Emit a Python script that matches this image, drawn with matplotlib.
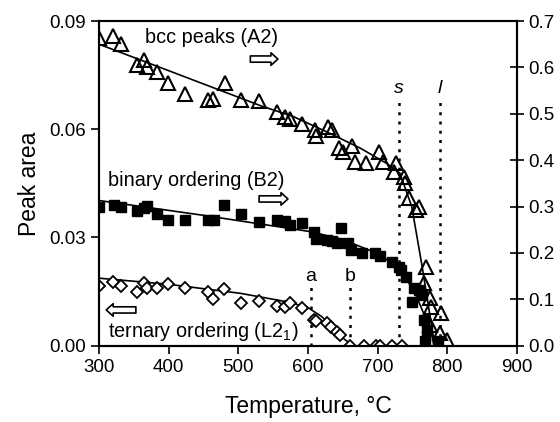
import matplotlib.pyplot as plt

plt.rcParams['font.family'] = ['Liberation Sans', 'DejaVu Sans']
plt.rcParams['mathtext.fontset'] = 'custom'
plt.rcParams['mathtext.rm'] = 'Liberation Sans'

# bcc peaks (A2), right axis
a2_t = [300, 320, 332, 354, 365, 369, 383, 399, 424, 457, 464, 481, 504, 530,
        556, 567, 574, 592, 610, 612, 629, 634, 645, 650, 663, 668, 684, 702,
        708, 726, 723, 738, 740, 745, 759, 755, 769, 767, 775, 776, 791, 775,
        790, 800]
a2_v = [0.663, 0.668, 0.650, 0.605, 0.617, 0.601, 0.591, 0.567, 0.543, 0.530,
        0.531, 0.566, 0.530, 0.527, 0.504, 0.494, 0.489, 0.479, 0.465, 0.452,
        0.472, 0.466, 0.426, 0.418, 0.430, 0.397, 0.394, 0.418, 0.397, 0.393,
        0.375, 0.364, 0.350, 0.318, 0.300, 0.293, 0.170, 0.135, 0.103, 0.084,
        0.070, 0.045, 0.027, 0.012]
a2_fit_t = [300, 400, 531, 579, 627, 675, 713, 732, 749, 764, 780, 783]
a2_fit_v = [0.650, 0.593, 0.518, 0.494, 0.461, 0.426, 0.393, 0.372, 0.300,
            0.170, 0.019, 0.0]

# binary ordering (B2), right axis
b2_t = [300, 321, 332, 354, 364, 369, 383, 399, 424, 457, 465, 480, 504, 530,
        556, 567, 574, 592, 608, 611, 627, 634, 641, 648, 657, 662, 677, 696,
        703, 720, 731, 734, 741, 752, 749, 759, 764, 766, 771, 768, 787]
b2_v = [0.300, 0.303, 0.298, 0.291, 0.296, 0.302, 0.283, 0.272, 0.272, 0.272,
        0.271, 0.303, 0.283, 0.266, 0.272, 0.269, 0.260, 0.264, 0.246, 0.231,
        0.228, 0.226, 0.222, 0.253, 0.221, 0.206, 0.199, 0.200, 0.193, 0.181,
        0.169, 0.163, 0.149, 0.124, 0.095, 0.120, 0.109, 0.055, 0.034, 0.010,
        0.010]
b2_fit_t = [300, 450, 603, 650, 704, 730, 752, 776, 781]
b2_fit_v = [0.313, 0.281, 0.246, 0.229, 0.196, 0.166, 0.120, 0.034, 0.0]

# ternary ordering (L2_1), left axis
l21_t = [300, 320, 332, 354, 365, 369, 383, 399, 424, 457, 464, 480, 504, 530,
         556, 567, 574, 592, 608, 611, 628, 633, 642, 646, 660, 681, 697, 703,
         720, 735]
l21_v = [0.0166, 0.0177, 0.0165, 0.0150, 0.0175, 0.0159, 0.0159, 0.0170,
         0.0159, 0.0150, 0.0129, 0.0156, 0.0119, 0.0125, 0.0110, 0.0108,
         0.0119, 0.0104, 0.0071, 0.0067, 0.0062, 0.0053, 0.0039, 0.0030,
         0.0, 0.0, 0.0, 0.0, 0.0, 0.0]
l21_fit_t = [300, 400, 503, 560, 598, 620, 637, 652, 665]
l21_fit_v = [0.0187, 0.0170, 0.0145, 0.0125, 0.0108, 0.0080, 0.0048, 0.0018,
             0.0]

fig = plt.figure(figsize=(5.6, 4.22), dpi=100)
ax = fig.add_axes([0.177, 0.181, 0.746, 0.769])
ax2 = ax.twinx()

ax.plot(l21_fit_t, l21_fit_v, color='black', lw=1.2, zorder=2)
ax.plot(l21_t, l21_v, 'D', ms=6, mfc='white', mec='black', mew=1.3, zorder=3)

ax2.plot(a2_fit_t, a2_fit_v, color='black', lw=1.2, zorder=2)
ax2.plot(b2_fit_t, b2_fit_v, color='black', lw=1.2, zorder=2)
ax2.plot(b2_t, b2_v, 's', ms=7, mfc='black', mec='black', zorder=3)
ax2.plot(a2_t, a2_v, '^', ms=10, mfc='none', mec='black', mew=1.5, zorder=4)

# transition lines
for t, top, lab in [(604, 0.0163, 'a'), (660, 0.0163, 'b')]:
    ax.plot([t, t], [0, top], color='black', lw=1.8, ls=(0, (1.2, 2.5)))
    ax.text(t, 0.0192, lab, ha='center', va='center', fontsize=14)
for t, lab in [(730, 's'), (790, 'l')]:
    ax.plot([t, t], [0, 0.068], color='black', lw=1.8, ls=(0, (1.2, 2.5)))
    ax.text(t, 0.0714, lab, ha='center', va='center', fontsize=14,
            style='italic')

ax.text(0.11, 0.948, 'bcc peaks (A2)', transform=ax.transAxes,
        fontsize=14.3, va='center')
ax.text(0.022, 0.508, 'binary ordering (B2)', transform=ax.transAxes,
        fontsize=14.3, va='center')
ax.text(0.022, 0.044, 'ternary ordering (L2$_1$)', transform=ax.transAxes,
        fontsize=14.3, va='center')

arrow = dict(arrowstyle='simple,head_length=0.5,head_width=0.9,tail_width=0.45',
             fc='white', ec='black', lw=1.2, shrinkA=0, shrinkB=0)
ax.annotate('', xy=(0.428, 0.883), xytext=(0.362, 0.883),
            xycoords='axes fraction', arrowprops=arrow)
ax.annotate('', xy=(0.452, 0.452), xytext=(0.383, 0.452),
            xycoords='axes fraction', arrowprops=arrow)
ax.annotate('', xy=(0.017, 0.110), xytext=(0.088, 0.110),
            xycoords='axes fraction', arrowprops=arrow)

ax.set_xlim(300, 900)
ax.set_ylim(0, 0.09)
ax2.set_ylim(0, 0.7)
ax.set_xticks(range(300, 901, 100))
ax.set_yticks([0, 0.03, 0.06, 0.09])
ax.set_yticklabels(['0.00', '0.03', '0.06', '0.09'])
ax2.set_yticks([i / 10 for i in range(8)])
ax2.set_yticklabels(['%.1f' % (i / 10) for i in range(8)])

ax.tick_params(axis='both', direction='out', length=6, width=1.2,
               labelsize=13.5)
ax2.tick_params(axis='y', direction='inout', length=10, width=1.2,
                labelsize=13.5)
for a in (ax, ax2):
    for s in a.spines.values():
        s.set_linewidth(1.5)

ax.set_xlabel('Temperature, °C', fontsize=16.5, labelpad=14)
ax.set_ylabel('Peak area', fontsize=16.5, labelpad=6)

fig.savefig('out.png', dpi=100)
